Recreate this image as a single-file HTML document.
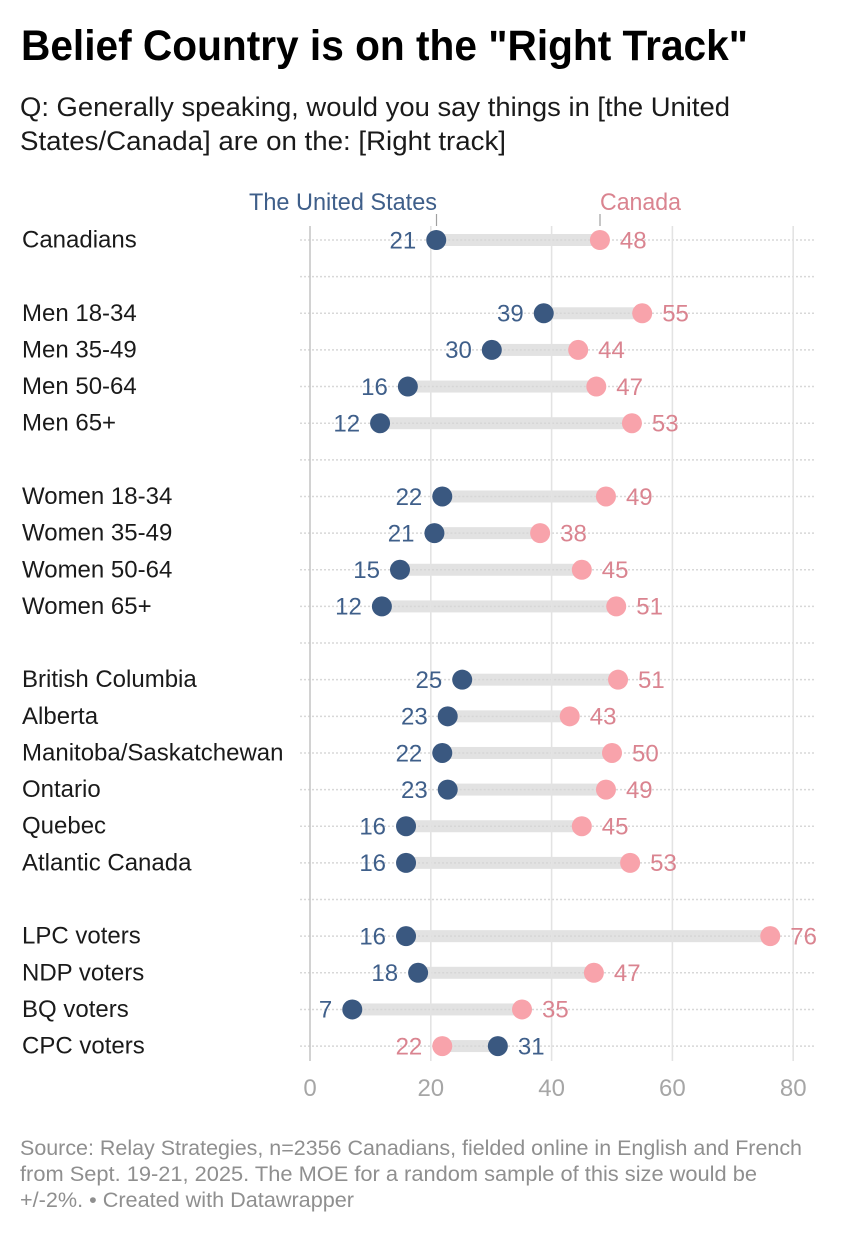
<!DOCTYPE html>
<html lang="en">
<head>
<meta charset="utf-8">
<title>Belief Country is on the "Right Track"</title>
<style>
html,body{margin:0;padding:0;background:#fff;width:858px;height:1236px;overflow:hidden}
svg{display:block}
text{font-family:"Liberation Sans",Arial,sans-serif}
</style>
</head>
<body>
<svg id="chart" width="858" height="1236" viewBox="0 0 858 1236" xmlns="http://www.w3.org/2000/svg">
  <text x="21" y="60" font-size="43" font-weight="700" fill="#000" textLength="727" lengthAdjust="spacingAndGlyphs">Belief Country is on the "Right Track"</text>
  <text x="20" y="116" font-size="26.5" fill="#1a1a1a" textLength="710" lengthAdjust="spacingAndGlyphs">Q: Generally speaking, would you say things in [the United</text>
  <text x="20" y="150" font-size="26.5" fill="#1a1a1a" textLength="486" lengthAdjust="spacingAndGlyphs">States/Canada] are on the: [Right track]</text>
  <g id="grid"></g>
  <g id="rows"></g>
  <g id="ticks"></g>
  <text x="437" y="210" text-anchor="end" font-size="24" fill="#3f5f8a" textLength="188" lengthAdjust="spacingAndGlyphs">The United States</text>
  <line x1="436.5" x2="436.5" y1="214" y2="226" stroke="#a0a0a0" stroke-width="1.2"></line>
  <text x="600" y="210" font-size="24" fill="#da8490" textLength="81" lengthAdjust="spacingAndGlyphs">Canada</text>
  <line x1="600" x2="600" y1="214" y2="226" stroke="#a0a0a0" stroke-width="1.2"></line>
  <text x="20" y="1155" font-size="21" fill="#8f8f8f" textLength="782" lengthAdjust="spacingAndGlyphs">Source: Relay Strategies, n=2356 Canadians, fielded online in English and French</text>
  <text x="20" y="1181" font-size="21" fill="#8f8f8f" textLength="737" lengthAdjust="spacingAndGlyphs">from Sept. 19-21, 2025. The MOE for a random sample of this size would be</text>
  <text x="20" y="1207" font-size="21" fill="#8f8f8f" textLength="334" lengthAdjust="spacingAndGlyphs">+/-2%. • Created with Datawrapper</text>
</svg>
<script>
const categories = ["Canadians", "", "Men 18-34", "Men 35-49", "Men 50-64", "Men 65+", "", "Women 18-34", "Women 35-49", "Women 50-64", "Women 65+", "", "British Columbia", "Alberta", "Manitoba/Saskatchewan", "Ontario", "Quebec", "Atlantic Canada", "", "LPC voters", "NDP voters", "BQ voters", "CPC voters"];
const unitedStates = [20.9, null, 38.7, 30.1, 16.2, 11.6, null, 21.9, 20.6, 14.9, 11.9, null, 25.2, 22.8, 21.9, 22.8, 15.9, 15.9, null, 15.9, 17.9, 7, 31.1];
const canada = [48, null, 55, 44.4, 47.4, 53.3, null, 49, 38.1, 45, 50.7, null, 51, 43, 50, 49, 45, 53, null, 76.2, 47, 35.1, 21.9];
const axisTicks = [0, 20, 40, 60, 80];

const NS = "http://www.w3.org/2000/svg";
const xScale = v => 310 + v * 6.04;
const yScale = i => 240 + i * 36.64;
const gridG = document.getElementById("grid");
const rowsG = document.getElementById("rows");
const ticksG = document.getElementById("ticks");

function make(tag, parent, attrs, text) {
  const el = document.createElementNS(NS, tag);
  for (const k in attrs) el.setAttribute(k, attrs[k]);
  if (text !== undefined) el.textContent = text;
  parent.appendChild(el);
  return el;
}

// dotted row lines
categories.forEach((c, i) => {
  const y = yScale(i);
  const dotted = make("line", gridG, {x1: 300, x2: 814, y1: y, y2: y, stroke: "#d8d8d8", "stroke-width": 1.5, "stroke-dasharray": "2 2"});
  
  
});

// bars go beneath vertical grid lines
categories.forEach((c, i) => {
  if (unitedStates[i] === null) return;
  const y = yScale(i);
  const a = xScale(unitedStates[i]);
  const b = xScale(canada[i]);
  const bar = make("rect", gridG, {x: Math.min(a, b), y: y - 6, width: Math.abs(b - a), height: 12, fill: "#e2e2e2"});
  
  
  const over = make("line", gridG, {x1: Math.min(a, b), x2: Math.max(a, b), y1: y, y2: y, stroke: "#d6d6d6", "stroke-width": 1.5, "stroke-dasharray": "2 2"});
  
  
});

// axis
axisTicks.forEach(t => {
  const x = xScale(t);
  const gl = make("line", gridG, {x1: x, x2: x, y1: 226, y2: 1061, stroke: t === 0 ? "#c6c6c6" : "#e3e3e3", "stroke-width": 1.6});
  
  
  const lbl = make("text", ticksG, {x: x, y: 1096, "text-anchor": "middle", "font-size": 24, fill: "#a6a6a6"}, String(t));
  
  
});

// rows
categories.forEach((c, i) => {
  if (unitedStates[i] === null) return;
  const y = yScale(i);
  const name = make("text", rowsG, {x: 22, y: y + 7.5, "font-size": 24, fill: "#1a1a1a"}, c);
  
  

  const a = xScale(unitedStates[i]);
  const b = xScale(canada[i]);
  const usLeft = a <= b;

  const usLabel = make("text", rowsG, {x: usLeft ? a - 20 : a + 20, y: y + 8.3, "font-size": 24, "text-anchor": usLeft ? "end" : "start", fill: "#3f5f8a"}, String(Math.round(unitedStates[i])));
  
  

  const caLabel = make("text", rowsG, {x: usLeft ? b + 20 : b - 20, y: y + 8.3, "font-size": 24, "text-anchor": usLeft ? "start" : "end", fill: "#da8490"}, String(Math.round(canada[i])));
  
  

  const caDot = make("circle", rowsG, {cx: b, cy: y, r: 10, fill: "#f8a3ab"});
  
  

  const usDot = make("circle", rowsG, {cx: a, cy: y, r: 10, fill: "#3a5880"});
  
  
});
</script>
</body>
</html>
